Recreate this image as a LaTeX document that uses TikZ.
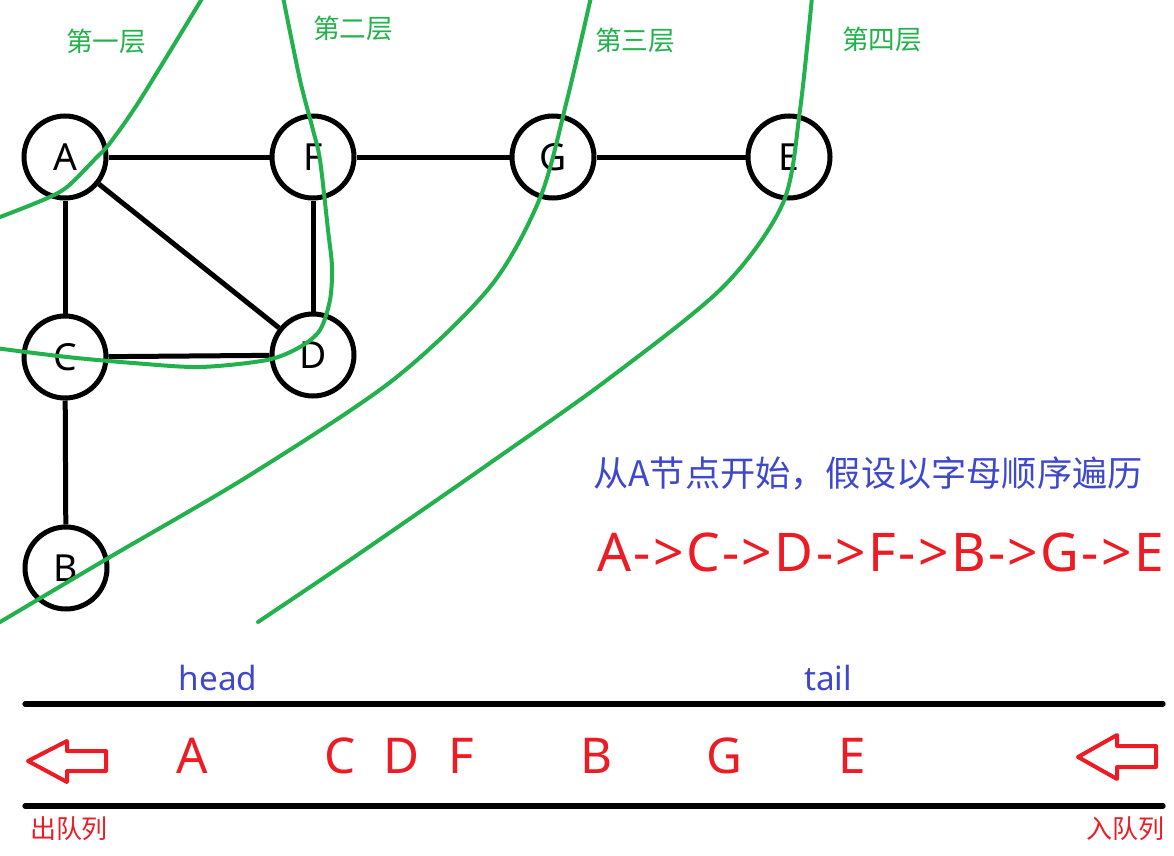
\documentclass[tikz,border=0pt]{standalone}
\usepackage{fontspec}
\setmainfont{Noto Sans}
\newfontfamily\cjk{Noto Sans CJK SC}
\definecolor{lgreen}{RGB}{34,177,76}
\definecolor{tblue}{RGB}{63,72,204}
\definecolor{tred}{RGB}{237,28,36}
\newcommand{\ls}{\kern1.8pt}
\begin{document}
\begin{tikzpicture}[x=0.75pt,y=-0.75pt,
  vtx/.style={circle,draw=black,line width=3.75pt,minimum size=61.5pt,inner sep=0pt,font=\fontsize{28}{28}\selectfont},
  edge/.style={draw=black,line width=3.75pt},
  layer/.style={draw=lgreen,line width=3pt,line cap=round},
  lyrlbl/.style={text=lgreen,font=\cjk\fontsize{20}{20}\selectfont,inner sep=0pt},
  qline/.style={draw=black,line width=4pt,line cap=round},
  qarrow/.style={draw=tred,line width=3pt,line join=round},
  qitem/.style={text=tred,font=\fontsize{37}{37}\selectfont,anchor=base,inner sep=0pt},
  ptr/.style={text=tblue,font=\fontsize{25}{25}\selectfont,anchor=base,inner sep=0pt},
  qlbl/.style={text=tred,font=\cjk\fontsize{19.5}{19.5}\selectfont,inner sep=0pt}]
\useasboundingbox (0,0) rectangle (1174,856);

% vertices
\node[vtx] (A) at (65,157) {A};
\node[vtx] (F) at (313,157) {F};
\node[vtx] (G) at (553,157) {G};
\node[vtx] (E) at (789,157) {E};
\node[vtx] (C) at (65,357) {C};
\node[vtx] (D) at (313,355) {D};
\node[vtx] (B) at (66,568) {B};

% edges
\draw[edge] (A) -- (F);
\draw[edge] (F) -- (G);
\draw[edge] (G) -- (E);
\draw[edge] (A) -- (C);
\draw[edge] (A) -- (D);
\draw[edge] (F) -- (D);
\draw[edge] (C) -- (D);
\draw[edge] (C) -- (B);

% layer curves
\draw[layer] plot[smooth] coordinates {(-5,219) (43,200) (67,187) (97,157) (110,143) (140,100) (203,-3)};
\draw[layer] plot[smooth] coordinates {(283,-3) (300,80) (313,130) (320,160) (328,230) (332,267) (330,300) (320,330) (300,347) (267,360) (200,367) (133,363) (67,357) (-5,348)};
\draw[layer] plot[smooth] coordinates {(591,-3) (567,100) (540,198) (490,287) (393,380) (250,475) (110,557) (-5,625)};
\draw[layer] plot[smooth] coordinates {(812,-3) (800,110) (783,203) (723,287) (607,380) (490,463) (350,560) (258,622)};

% layer labels
\node[lyrlbl] (l1) at (106,41) {第一层};
\node[lyrlbl] (l2) at (353,28) {第二层};
\node[lyrlbl] (l3) at (635,40) {第三层};
\node[lyrlbl] (l4) at (882,39) {第四层};

% description
\node[text=tblue,font=\cjk\fontsize{26.4}{26.4}\selectfont,anchor=west,inner sep=0pt] (desc) at (593,473) {从A节点开始，假设以字母顺序遍历};
\node[text=tred,font=\fontsize{40}{40}\selectfont,anchor=base west,inner sep=0pt] (seq) at (597,571) {A\ls-\ls>\ls C\ls-\ls>\ls D\ls-\ls>\ls F\ls-\ls>\ls B\ls-\ls>\ls G\ls-\ls>\ls E};

% queue
\coordinate (t1) at (25,704);
\coordinate (t2) at (1163,704);
\coordinate (b1) at (25,806);
\coordinate (b2) at (1163,806);
\draw[qline] (t1) -- (t2);
\draw[qline] (b1) -- (b2);

\node[ptr] (head) at (218,690) {head};
\node[ptr] (tail) at (828,690) {tail};

\node[qitem] (qA) at (192,773) {A};
\node[qitem] (qC) at (340,773) {C};
\node[qitem] (qD) at (402,773) {D};
\node[qitem] (qF) at (461,773) {F};
\node[qitem] (qB) at (597,773) {B};
\node[qitem] (qG) at (724,773) {G};
\node[qitem] (qE) at (852,773) {E};

\draw[qarrow] (28,761) -- (67,741) -- (67,751) -- (106,751) -- (106,771) -- (67,771) -- (67,782) -- cycle;
\draw[qarrow] (1078,757) -- (1117,735) -- (1117,746) -- (1156,746) -- (1156,767) -- (1117,767) -- (1117,779) -- cycle;

\node[qlbl] (out) at (69,829) {出队列};
\node[qlbl] (in) at (1125,829) {入队列};
\end{tikzpicture}
\end{document}
